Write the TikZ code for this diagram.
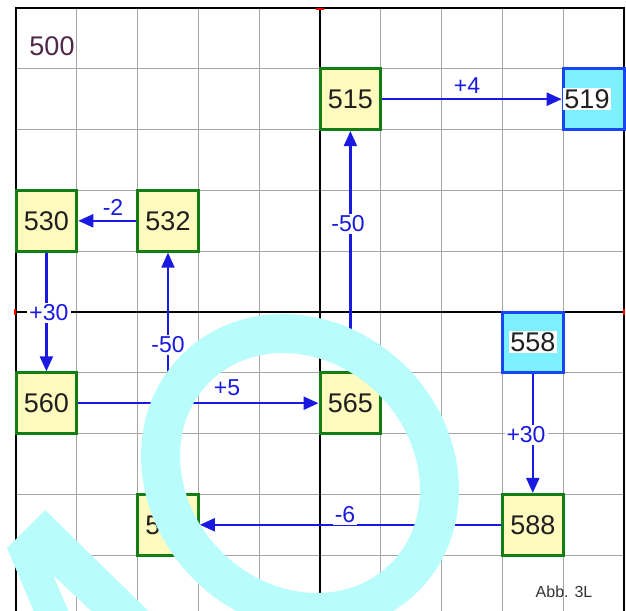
\documentclass[tikz,border=0pt]{standalone}
\usepackage{fontspec}
\setmainfont{Liberation Sans}
\usetikzlibrary{arrows.meta}
\definecolor{boxfill}{RGB}{255,250,190}
\definecolor{boxline}{RGB}{20,125,20}
\definecolor{cyfill}{RGB}{125,240,255}
\definecolor{cyline}{RGB}{25,70,245}
\definecolor{arr}{RGB}{25,25,225}
\definecolor{gridc}{RGB}{165,165,165}
\definecolor{wmcyan}{RGB}{185,252,252}
\definecolor{startc}{RGB}{80,40,75}
\begin{document}
\begin{tikzpicture}[x=1pt,y=-1pt,
  cell/.style={draw=boxline, fill=boxfill, line width=3pt, minimum size=60.8pt, inner sep=0pt,
    font=\fontsize{27}{27}\selectfont, text=black!88},
  goal/.style={draw=cyline, fill=cyfill, line width=3pt, minimum size=60.8pt, inner sep=0pt},
  goaltext/.style={fill=white, inner sep=1.5pt, font=\fontsize{27}{27}\selectfont, text=black!88},
  link/.style={draw=arr, line width=2.2pt, -{Triangle[length=15pt,width=13pt]}},
  lbl/.style={text=arr, font=\fontsize{23}{23}\selectfont, inner sep=1pt},
  lblw/.style={lbl, fill=white, inner sep=2pt},
  gridline/.style={draw=gridc, line width=1.2pt},
  axisline/.style={draw=black, line width=2pt},
]
\useasboundingbox (0,0) rectangle (626,610);
\clip (0,0) rectangle (626,610);
\fill[white] (0,0) rectangle (626,610);
% grid
\foreach \i in {1,...,9} {
  \draw[gridline] ({16+60.8*\i},8) -- ({16+60.8*\i},620);
  \draw[gridline] (16,{8+60.8*\i}) -- (624,{8+60.8*\i});
}
% axes and frame
\draw[axisline] (320,8) -- (320,620);
\draw[axisline] (16,312) -- (624,312);
\draw[axisline] (16,620) -- (16,8) -- (624,8) -- (624,620);
\draw[red, line width=1.5pt] (316,9) -- (324,9);
\draw[red, line width=1.5pt] (15,309) -- (15,315);
\draw[red, line width=1.5pt] (624,309) -- (624,315);
% start label
\node[font=\fontsize{27}{27}\selectfont, text=startc] (start) at (52,46) {500};
% boxes
\node[cell] (n530) at (46.4,220.8) {530};
\node[cell] (n532) at (168,220.8) {532};
\node[cell] (n515) at (350.4,99.2) {515};
\node[goal] (n519) at (593.6,99.2) {};
\node[goaltext] (t519) at (587,99.2) {519};
\node[cell] (n560) at (46.4,403.2) {560};
\node[cell] (n565) at (350.4,403.2) {565};
\node[goal] (n558) at (532.8,342.4) {};
\node[goaltext] (t558) at (532.8,342.4) {558};
\node[cell] (n588) at (532.8,524.8) {588};
\node[cell] (n582) at (168,524.8) {582};
% connectors
\draw[link] (n532) -- (n530);
\draw[link] (n530) -- (n560);
\draw[link] (n582) -- (n532);
\draw[link] (n560) -- (n565);
\draw[link] (n565) -- (n515);
\draw[link] (n515) -- (n519);
\draw[link] (n558) -- (n588);
\draw[link] (n588) -- (n582);
% labels
\node[lbl] (l1) at (113,207) {-2};
\node[lblw] (l2) at (49,313) {+30};
\node[lblw] (l3) at (168,345) {-50};
\node[lbl] (l4) at (227,388) {+5};
\node[lblw] (l5) at (348,224) {-50};
\node[lbl] (l6) at (467,86) {+4};
\node[lblw] (l7) at (526,435) {+30};
\node[lblw] (l8) at (345,515) {-6};
\node[font=\fontsize{16}{16}\selectfont, text=black!80] (abb) at (564,592) {Abb. 3L};
% overlay shapes
\begin{scope}[shift={(300,473)}, rotate=-45]
  \draw[wmcyan, line width=39pt] (0,0) ellipse [x radius=147.7pt, y radius=130.7pt];
\end{scope}
\fill[wmcyan] (7,548) -- (45,510) -- (178,640) -- (122,640) -- (53,575) -- (81,640) -- (46,640) -- cycle;
\end{tikzpicture}
\end{document}
